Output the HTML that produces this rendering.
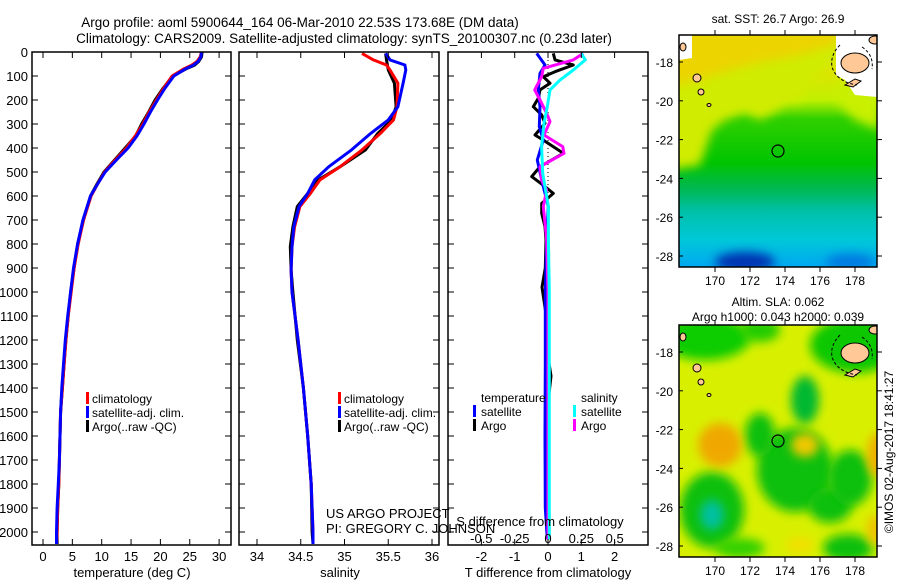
<!DOCTYPE html>
<html><head><meta charset="utf-8">
<style>
html,body{margin:0;padding:0;background:#fff;}
body{width:900px;height:580px;overflow:hidden;font-family:"Liberation Sans",sans-serif;}
svg text{font-family:"Liberation Sans",sans-serif;fill:#000;}
</style></head>
<body>
<svg id="fig" width="900" height="580" viewBox="0 0 900 580">
<defs>
<filter id="blur4" x="-50%" y="-50%" width="200%" height="200%"><feGaussianBlur stdDeviation="5"/></filter>
<filter id="blur8" x="-80%" y="-80%" width="260%" height="260%"><feGaussianBlur stdDeviation="5"/></filter>
<clipPath id="clipm1"><rect x="679" y="35" width="198" height="232"/></clipPath>
<clipPath id="clipm2"><rect x="679" y="325" width="198" height="232"/></clipPath>
<linearGradient id="sstg" x1="0" y1="0" x2="0" y2="1">
<stop offset="0" stop-color="#f0c800"/><stop offset="0.12" stop-color="#e8e000"/>
<stop offset="0.28" stop-color="#c0f000"/><stop offset="0.36" stop-color="#30d000"/>
<stop offset="0.55" stop-color="#00c400"/><stop offset="0.66" stop-color="#00b850"/>
<stop offset="0.76" stop-color="#00c0a8"/><stop offset="0.88" stop-color="#00c8d8"/>
<stop offset="1" stop-color="#00a8f0"/></linearGradient>
</defs>
<text x="300" y="27" font-size="13.5" text-anchor="middle">Argo profile: aoml 5900644_164 06-Mar-2010 22.53S 173.68E (DM data)</text>
<text x="344" y="43" font-size="13.5" text-anchor="middle">Climatology: CARS2009. Satellite-adjusted climatology: synTS_20100307.nc (0.23d later)</text>
<g id="p1"></g>
<g id="p2"></g>
<g id="p3"></g>
<g id="m1"></g>
<g id="m2"></g>
<text transform="translate(893,452) rotate(-90)" font-size="12" text-anchor="middle">©IMOS 02-Aug-2017 18:41:27</text>
</svg>
<script>
// ---- data ----
const tDepth=[0,20,40,55,70,100,150,200,250,300,350,400,450,500,550,600,700,800,900,1000,1100,1200,1300,1400,1500,1600,1700,1800,1900,2000,2050];
const tClim=[27,26.8,26.2,25.3,24,22,20.6,19.3,18.1,17,15.7,14.2,12.3,10.5,9.3,8.2,6.9,6.0,5.3,4.8,4.3,3.9,3.6,3.3,3.0,2.9,2.8,2.7,2.5,2.4,2.3];
const tSat=[27,26.9,26.4,25.6,24.3,22.3,20.8,19.5,18.3,17.2,16.0,14.5,12.5,10.6,9.3,8.1,6.8,5.9,5.2,4.7,4.2,3.8,3.5,3.2,3.0,2.9,2.8,2.6,2.4,2.3,2.3];
const tArgo=[27.1,27,26.5,25.8,24.4,22.1,20.5,19.1,18.0,16.8,15.8,14.0,12.2,10.4,9.2,8.1,6.9,5.9,5.3,4.7,4.3,3.9,3.6,3.3,3.0,2.9,2.8,2.7,2.5,2.4,2.4];
const sDepth=[6,33,54,75,130,228,283,339,408,478,533,589,644,728,811,908,1000,1200,1400,1600,1800,2000,2050];
const sClim=[35.20,35.33,35.48,35.52,35.61,35.60,35.56,35.41,35.20,34.95,34.72,34.61,34.49,34.43,34.40,34.39,34.40,34.47,34.53,34.58,34.62,34.64,34.64];
const sSat=[35.47,35.52,35.69,35.70,35.67,35.61,35.50,35.30,35.08,34.82,34.66,34.58,34.48,34.42,34.40,34.39,34.40,34.47,34.53,34.58,34.62,34.64,34.64];
const sArgo=[35.47,35.48,35.49,35.50,35.57,35.59,35.54,35.38,35.24,34.95,34.70,34.58,34.46,34.41,34.38,34.39,34.41,34.46,34.53,34.58,34.62,34.63,34.64];
const dDepthT=[6,33,54,82,103,130,158,193,228,262,297,346,367,422,478,519,561,589,631,672,728,783,900,980,1100,1250,1350,1500,1700,1900,2030];
const dTArgo=[0.16,0.21,0.76,0.21,-0.14,0.06,-0.24,-0.29,-0.44,-0.19,-0.09,-0.39,-0.14,0.46,-0.24,-0.49,-0.09,0.16,-0.19,-0.19,-0.09,-0.06,-0.08,-0.18,-0.05,-0.02,0.09,-0.03,-0.02,0.0,0.0];
const dDepthTs=[6,54,89,158,228,311,367,450,533,644,783,1000,1300,1600,1900,2030];
const dTSat=[-0.34,-0.09,-0.24,-0.29,-0.24,-0.26,-0.14,-0.32,-0.19,0.01,-0.04,-0.08,-0.08,-0.09,-0.08,-0.02];
const dDepthS=[6,33,68,103,158,200,256,290,346,394,422,478,533,575,644,783,1000,1400,1800,2030];
const dSArgo=[0.265,0.19,-0.035,-0.048,-0.10,-0.06,-0.01,0.015,-0.03,0.11,0.12,-0.06,-0.048,-0.01,-0.035,-0.01,0.0,0.0,0.0,0.0];
const dDepthSs=[6,33,75,117,158,228,297,394,506,644,783,1000,1400,1800,2030];
const dSSat=[0.25,0.28,0.19,0.09,0.015,-0.005,-0.03,-0.048,-0.04,0.003,0.003,0.01,0.01,0.01,0.01];
const depthTicks=[0,100,200,300,400,500,600,700,800,900,1000,1100,1200,1300,1400,1500,1600,1700,1800,1900,2000];
const tTicks=[0,5,10,15,20,25,30];
const sTicks=[34,34.5,35,35.5,36];
const dTTicks=[-2,-1,0,1,2];
const dSTicks=[-0.5,-0.25,0,0.25,0.5];
const latTicks=[-16,-18,-20,-22,-24,-26,-28];
const lonTicks=[170,172,174,176,178];

const NS='http://www.w3.org/2000/svg';
function mk(p,tag,at){const e=document.createElementNS(NS,tag);for(const k in at)e.setAttribute(k,at[k]);p.appendChild(e);return e;}
const TOP=52,BOT=545;
const yD=d=>TOP+d*0.24;
function frame(g,x0,x1){const r=mk(g,'rect',{x:x0,y:TOP,width:x1-x0,height:BOT-TOP,fill:'none',stroke:'#000','stroke-width':1.5});}
function depthTicksOn(g,x0,x1,labels){depthTicks.forEach(d=>{const y=yD(d);mk(g,'line',{x1:x0,y1:y,x2:x0+6,y2:y,stroke:'#000'});mk(g,'line',{x1:x1,y1:y,x2:x1-6,y2:y,stroke:'#000'});if(labels){const t=mk(g,'text',{x:28,y:y+5,'font-size':13,'text-anchor':'end'});t.textContent=d;}});}
function xticks(g,vals,fx,lab){vals.forEach(v=>{const x=fx(v);mk(g,'line',{x1:x,y1:TOP,x2:x,y2:TOP+6,stroke:'#000'});mk(g,'line',{x1:x,y1:BOT,x2:x,y2:BOT-6,stroke:'#000'});const t=mk(g,'text',{x:x,y:561,'font-size':13,'text-anchor':'middle'});t.textContent=lab?lab(v):v;});}
function line(g,xs,ds,fx,col,w,name){const pts=xs.map((v,i)=>fx(v).toFixed(1)+','+yD(ds[i]).toFixed(1)).join(' ');const p=mk(g,'polyline',{points:pts,fill:'none',stroke:col,'stroke-width':w,'stroke-linejoin':'round'});}
function txt(g,x,y,s,size,anchor,name){const t=mk(g,'text',{x:x,y:y,'font-size':size,'text-anchor':anchor||'start'});t.textContent=s;return t;}
function legBar(g,x,y,col){const r=mk(g,'rect',{x:x,y:y-11,width:3,height:12,fill:col});}

// panel 1
const p1=document.getElementById('p1');
const fT=v=>43+v*5.87;
line(p1,tArgo,tDepth,fT,'#000',3,'argo-temperature-line');
line(p1,tClim,tDepth,fT,'#f00',3,'climatology-temperature-line');
line(p1,tSat,tDepth,fT,'#0000ff',3,'satellite-temperature-line');
frame(p1,32,231);depthTicksOn(p1,32,231,true);xticks(p1,tTicks,fT);
txt(p1,132,577,'temperature (deg C)',13,'middle','x-axis-title');
[['climatology','#f00'],['satellite-adj. clim.','#0000ff'],['Argo(..raw -QC)','#000']].forEach((e,i)=>{legBar(p1,86,403+i*14,e[1]);txt(p1,92,403+i*14,e[0],12,'start','legend-entry');});

// panel 2
const p2=document.getElementById('p2');
const fS=v=>257+(v-34)*87.5;
line(p2,sArgo,sDepth,fS,'#000',3,'argo-salinity-line');
line(p2,sClim,sDepth,fS,'#f00',3,'climatology-salinity-line');
line(p2,sSat,sDepth,fS,'#0000ff',3,'satellite-salinity-line');
frame(p2,239,439);depthTicksOn(p2,239,439,false);xticks(p2,sTicks,fS);
txt(p2,340,577,'salinity',13,'middle','x-axis-title');
[['climatology','#f00'],['satellite-adj. clim.','#0000ff'],['Argo(..raw -QC)','#000']].forEach((e,i)=>{legBar(p2,338,403+i*14,e[1]);txt(p2,344,403+i*14,e[0],12,'start','legend-entry');});
txt(p2,326,518,'US ARGO PROJECT',13,'start','project-label');
txt(p2,326,533,'PI: GREGORY C. JOHNSON',13,'start','pi-label');

// panel 3
const p3=document.getElementById('p3');
const fDT=v=>548+v*33.3, fDS=v=>548+v*133.3;
mk(p3,'line',{x1:548,y1:TOP,x2:548,y2:BOT,stroke:'#000','stroke-dasharray':'1,3'});
line(p3,dTArgo,dDepthT,fDT,'#000',3,'argo-temperature-diff-line');
line(p3,dTSat,dDepthTs,fDT,'#0000ff',3,'satellite-temperature-diff-line');
line(p3,dSArgo,dDepthS,fDS,'#ff00ff',3,'argo-salinity-diff-line');
line(p3,dSSat,dDepthSs,fDS,'#00ffff',3,'satellite-salinity-diff-line');
frame(p3,448,648);depthTicksOn(p3,448,648,false);xticks(p3,dTTicks,fDT);
dSTicks.forEach(v=>txt(p3,fDS(v),543,String(v),13,'middle','s-tick-label'));
txt(p3,540,526,'S difference from climatology',13,'middle','s-axis-title');
txt(p3,548,577,'T difference from climatology',13,'middle','x-axis-title');
txt(p3,481,402,'temperature',12,'start','legend-title-temperature');
txt(p3,581,402,'salinity',12,'start','legend-title-salinity');
legBar(p3,473,416,'#0000ff');txt(p3,481,416,'satellite',12,'start','legend-entry');
legBar(p3,473,430,'#000');txt(p3,481,430,'Argo',12,'start','legend-entry');
legBar(p3,573,416,'#00ffff');txt(p3,581,416,'satellite',12,'start','legend-entry');
legBar(p3,573,430,'#ff00ff');txt(p3,581,430,'Argo',12,'start','legend-entry');

// maps
const lonX=l=>715+(l-170)*17.5;
function mapAxes(g,y0){const latY=l=>y0+27+(-18-l)*19.4;
 latTicks.forEach(l=>{const y=latY(l);if(y<y0||y>y0+232)return;mk(g,'line',{x1:877,y1:y,x2:882,y2:y,stroke:'#000'});mk(g,'line',{x1:679,y1:y,x2:683,y2:y,stroke:'#000'});txt(g,673,y+5,String(l),12,'end','lat-tick-label');});
 lonTicks.forEach(l=>{const x=lonX(l);mk(g,'line',{x1:x,y1:y0,x2:x,y2:y0-5,stroke:'#000'});mk(g,'line',{x1:x,y1:y0+232,x2:x,y2:y0+237,stroke:'#000'});txt(g,x,y0+250,String(l),12,'middle','lon-tick-label');});
 const r=mk(g,'rect',{x:679,y:y0,width:198,height:232,fill:'none',stroke:'#000','stroke-width':1.5});
 const c=mk(g,'circle',{cx:778,cy:y0+116,r:6,fill:'none',stroke:'#000','stroke-width':1.2});
}
function land(g,y0){
 const f=mk(g,'ellipse',{cx:855,cy:y0+28,rx:14,ry:10,fill:'#ffc896',stroke:'#000'});
 mk(g,'ellipse',{cx:875,cy:y0+5,rx:6,ry:4,fill:'#ffc896',stroke:'#000'});
 mk(g,'path',{d:`M${845} ${y0+50} l10 -6 l6 2 l-8 6 z`,fill:'#ffc896',stroke:'#000'});
 mk(g,'path',{d:`M840 ${y0+10} q-10 10 -8 22 q5 15 25 18 M862 ${y0+12} q12 8 10 22`,fill:'none',stroke:'#000','stroke-dasharray':'3,2'});
 [[697,y0+43,4,4],[701,y0+57,3,3],[683,y0+12,3,4],[709,y0+70,2,1.5]].forEach(a=>mk(g,'ellipse',{cx:a[0],cy:a[1],rx:a[2],ry:a[3],fill:'#ffc896',stroke:'#000'}));
}
const m1=document.getElementById('m1');
txt(m1,778,23,'sat. SST: 26.7 Argo: 26.9',12,'middle','sst-map-title');
const g1=mk(m1,'g',{'clip-path':'url(#clipm1)'});
mk(g1,'rect',{x:679,y:35,width:198,height:232,fill:'url(#sstg)'});
mk(g1,'polygon',{points:'670,30 840,30 840,60 815,80 795,105 790,100 775,112 760,120 745,112 725,120 712,130 700,165 670,170',fill:'#d0ec00',filter:'url(#blur4)'});
mk(g1,'polygon',{points:'670,30 840,30 835,45 800,55 760,62 730,70 700,80 670,85',fill:'#ecd400',filter:'url(#blur4)'});
mk(g1,'polygon',{points:'835,85 880,85 880,130 855,120 840,105',fill:'#c8f000',filter:'url(#blur4)'});
mk(g1,'ellipse',{cx:745,cy:262,rx:30,ry:10,fill:'#0030b0',filter:'url(#blur4)'});
mk(g1,'ellipse',{cx:850,cy:262,rx:25,ry:8,fill:'#0078e0',filter:'url(#blur4)'});
mk(g1,'polygon',{points:'836,35 877,35 877,97 855,95 845,80 836,75',fill:'#fff'});
mk(g1,'polygon',{points:'679,35 692,35 692,58 679,60',fill:'#fff'});
land(g1,35);
mapAxes(m1,35);

const m2=document.getElementById('m2');
txt(m2,778,306,'Altim. SLA: 0.062',12,'middle','sla-map-title');
txt(m2,778,321,'Argo h1000: 0.043 h2000: 0.039',12,'middle','argo-height-label');
const g2=mk(m2,'g',{'clip-path':'url(#clipm2)'});
mk(g2,'rect',{x:679,y:325,width:198,height:232,fill:'#d8f000'});
const blobs=[[705,338,45,22,'#10cc00'],[760,330,20,12,'#20cc00'],[855,345,45,28,'#10c800'],[805,400,14,24,'#00b830'],[795,470,38,42,'#10c010'],[760,435,15,22,'#10c010'],[830,505,22,18,'#10c010'],[712,510,32,38,'#10c010'],[712,515,12,15,'#00c0a0'],[850,478,22,28,'#10c010'],[848,548,25,14,'#10c010'],[740,548,25,10,'#30d000'],[720,445,22,22,'#f0a800'],[805,445,14,12,'#f0c800'],[877,455,10,22,'#f0b000'],[875,530,8,15,'#f0c000'],[800,545,14,9,'#f0e000']];
blobs.forEach(b=>{const e=mk(g2,'ellipse',{cx:b[0],cy:b[1],rx:b[2],ry:b[3],fill:b[4],filter:'url(#blur8)'});});
land(g2,325);
mapAxes(m2,325);
</script>
</body></html>
